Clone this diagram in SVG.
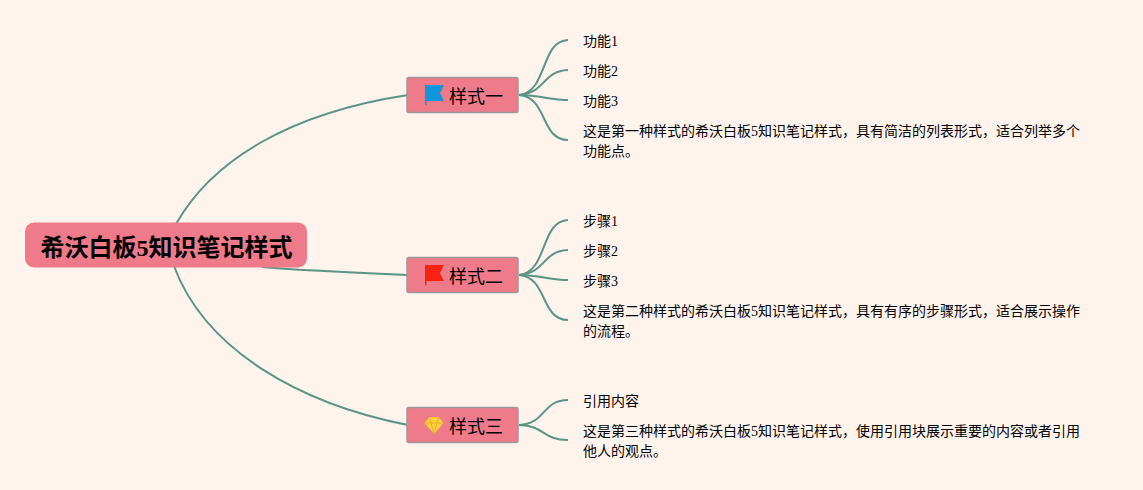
<svg xmlns="http://www.w3.org/2000/svg" width="1143" height="490" viewBox="0 0 1143 490">
<style>
text{font-family:"Liberation Serif","Noto Sans CJK SC",serif;fill:#000}
.leaf{font-size:14px}
.branch{font-size:18px}
.root{font-size:24px;font-weight:bold}
.box{fill:#ee7a8a;stroke:#9a9a9a;stroke-width:1.5}
#connectors path{fill:none;stroke:#5b9484;stroke-width:2}
</style>
<rect width="1143" height="490" fill="#fff3ee"/>
<g id="connectors">
<path d="M176 224C212 160 290 113 408 95"/>
<path d="M262 267C310 271 360 273 408 275"/>
<path d="M174 266C205 350 300 404 408 425"/>
<path d="M519 95C548 92 540 41 568 40"/>
<path d="M519 95C546 93 542 71 568 70"/>
<path d="M519 95C540 95 550 100 568 100"/>
<path d="M519 95C548 97 540 140 568 140"/>
<path d="M519 275C548 272 540 221 568 220"/>
<path d="M519 275C546 273 542 251 568 250"/>
<path d="M519 275C540 275 550 280 568 280"/>
<path d="M519 275C548 277 540 320 568 320"/>
<path d="M519 425C546 424 542 400 568 400"/>
<path d="M519 425C546 426 542 440 568 440"/>
</g>
<g id="root"><rect x="25" y="222.500" width="282" height="45" rx="9" fill="#ee7a8a"/><text class="root" x="40.500" y="256">希沃白板5知识笔记样式</text></g>
<g id="branch1"><rect class="box" x="407" y="77.500" width="111" height="35" rx="2"/><path d="M425 85H444L440 93 444 101H426.500V105H425Z" fill="#1296db"/><text class="branch" x="449" y="103">样式一</text></g>
<g id="branch2"><rect class="box" x="407" y="257.500" width="111" height="35" rx="2"/><path d="M425 265H444L440 273 444 281H426.500V285H425Z" fill="#f5230f"/><text class="branch" x="449" y="283">样式二</text></g>
<g id="branch3"><rect class="box" x="407" y="407.500" width="111" height="35" rx="2"/><path d="M429.500 417H438.500L443.500 423 434 434 424.500 423Z" fill="#ffd23c"/><path d="M424.500 423H443.500M429.500 417L431 423 434 434 437 423 438.500 417" fill="none" stroke="#eda92a" stroke-width="1"/><text class="branch" x="449" y="433">样式三</text></g>
<g id="leaf1-1"><text class="leaf" x="583" y="46">功能1</text></g>
<g id="leaf1-2"><text class="leaf" x="583" y="76">功能2</text></g>
<g id="leaf1-3"><text class="leaf" x="583" y="106">功能3</text></g>
<g id="leaf1-4"><text class="leaf" x="583" y="136">这是第一种样式的希沃白板5知识笔记样式，具有简洁的列表形式，适合列举多个</text><text class="leaf" x="583" y="156">功能点。</text></g>
<g id="leaf2-1"><text class="leaf" x="583" y="226">步骤1</text></g>
<g id="leaf2-2"><text class="leaf" x="583" y="256">步骤2</text></g>
<g id="leaf2-3"><text class="leaf" x="583" y="286">步骤3</text></g>
<g id="leaf2-4"><text class="leaf" x="583" y="316">这是第二种样式的希沃白板5知识笔记样式，具有有序的步骤形式，适合展示操作</text><text class="leaf" x="583" y="336">的流程。</text></g>
<g id="leaf3-1"><text class="leaf" x="583" y="406">引用内容</text></g>
<g id="leaf3-2"><text class="leaf" x="583" y="436">这是第三种样式的希沃白板5知识笔记样式，使用引用块展示重要的内容或者引用</text><text class="leaf" x="583" y="456">他人的观点。</text></g>
</svg>
